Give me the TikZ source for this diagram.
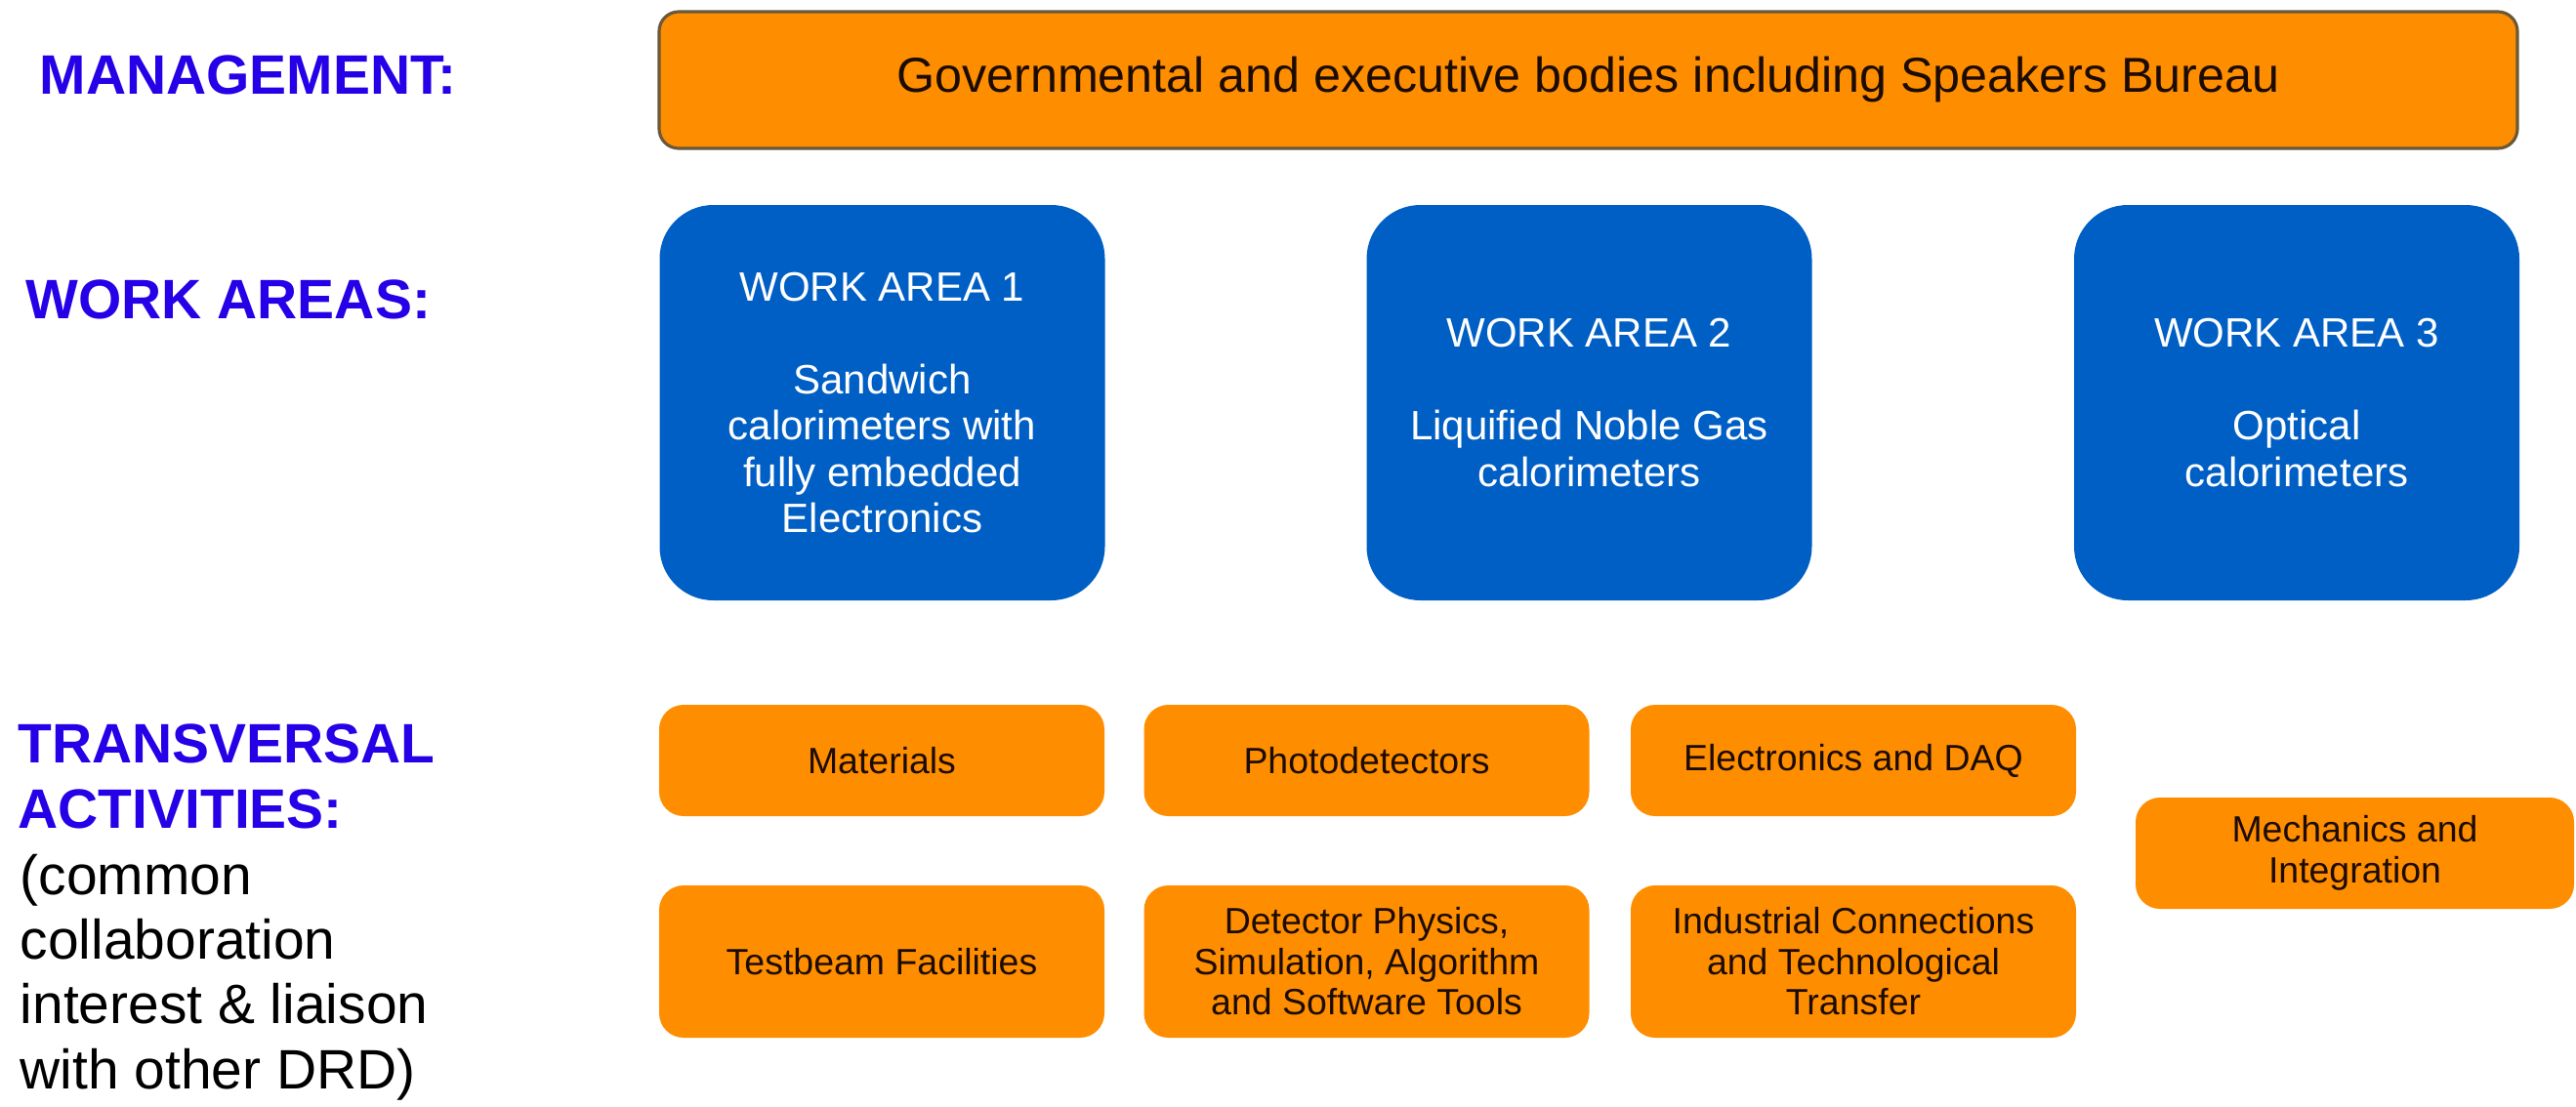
\documentclass[tikz,border=0pt]{standalone}
\usepackage{fontspec}
\setmainfont{Liberation Sans}
\definecolor{labelblue}{RGB}{38,0,230}
\definecolor{boxorange}{RGB}{255,141,0}
\definecolor{mgmtedge}{RGB}{105,88,58}
\definecolor{areablue}{RGB}{0,95,196}
\definecolor{taskink}{RGB}{28,12,0}
\begin{document}
\begin{tikzpicture}[
		rowlabel/.style = {anchor=base west, inner sep=0pt, align=left, text=labelblue, font=\fontsize{16.2}{18.8}\selectfont\bfseries},
		rownote/.style = {anchor=base west, inner sep=0pt, align=left, text=black, font=\fontsize{16.2}{18.8}\selectfont},
		mgmtbox/.style = {draw=mgmtedge, line width=0.9pt, fill=boxorange, rounded corners=0.2cm, minimum width=19.03cm, minimum height=1.40cm, text=taskink, font=\fontsize{14.3}{16}\selectfont},
		areabox/.style = {fill=areablue, rounded corners=0.55cm, minimum width=4.56cm, minimum height=4.05cm, align=center, text=white, font=\fontsize{11.95}{13.5}\selectfont},
		taskbox/.style = {fill=boxorange, rounded corners=0.25cm, minimum width=4.56cm, minimum height=1.14cm, align=center, text=taskink, font=\fontsize{10.66}{11.8}\selectfont},
	]
	\path[use as bounding box] (0,0) rectangle (26.38,11.33);
	% row labels (base = last line)
	\node[rowlabel] (mgmtlabel) at (0.40,10.37) {MANAGEMENT:};
	\node[rowlabel] (arealabel) at (0.26,8.07) {WORK AREAS:};
	\node[rowlabel] (translabel) at (0.18,2.85) {TRANSVERSAL\\ACTIVITIES:};
	\node[rownote] (transnote) at (0.20,0.18) {(common\\collaboration\\interest \& liaison\\with other DRD)};
	% management
	\node[mgmtbox] (mgmt) at (16.265,10.51) {Governmental and executive bodies including Speakers Bureau};
	% work areas
	\node[areabox] (wa1) at (9.035,7.205) {WORK AREA 1\\[13.5pt]Sandwich\\calorimeters with\\fully embedded\\Electronics};
	\node[areabox] (wa2) at (16.275,7.205) {WORK AREA 2\\[13.5pt]Liquified Noble Gas\\calorimeters};
	\node[areabox] (wa3) at (23.52,7.205) {WORK AREA 3\\[13.5pt]Optical\\calorimeters};
	% transversal activities
	\node[taskbox] (materials) at (9.03,3.54) {Materials};
	\node[taskbox] (photodet) at (13.995,3.54) {Photodetectors};
	\node[taskbox] (electronics) at (18.98,3.54) {Electronics and DAQ};
	\node[taskbox, minimum height=1.56cm] (testbeam) at (9.03,1.48) {Testbeam Facilities};
	\node[taskbox, minimum height=1.56cm] (physics) at (13.995,1.48) {Detector Physics,\\Simulation, Algorithm\\and Software Tools};
	\node[taskbox, minimum height=1.56cm] (industry) at (18.98,1.48) {Industrial Connections\\and Technological\\Transfer};
	\node[taskbox, minimum width=4.49cm] (mechanics) at (24.115,2.59) {Mechanics and\\Integration};
\end{tikzpicture}
\end{document}
